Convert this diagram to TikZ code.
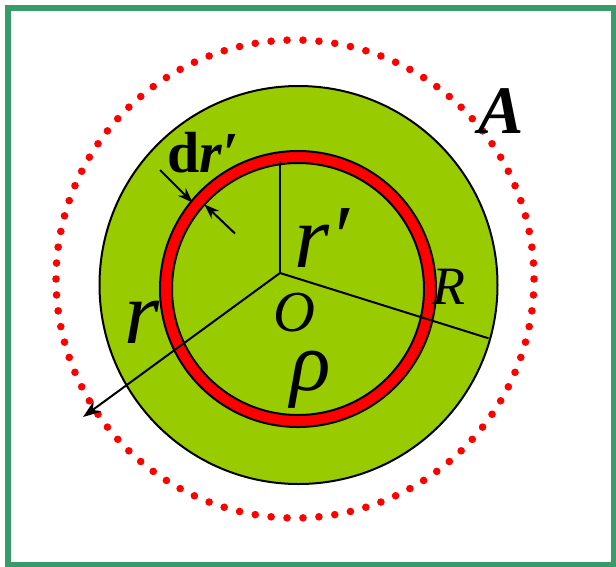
\documentclass[tikz,border=0pt]{standalone}
\usepackage{fontspec}
\setmainfont{Liberation Serif}
\usetikzlibrary{arrows.meta}
\definecolor{framegreen}{RGB}{56,155,106}
\definecolor{diskgreen}{RGB}{153,204,0}
\definecolor{ringred}{RGB}{255,0,0}
\tikzset{
  outline/.style={draw=black,line width=2pt},
  radial/.style={draw=black,line width=2pt},
  smallarrow/.style={draw=black,line width=2pt,-{Stealth[length=15pt,width=11pt]}},
  bigarrow/.style={draw=black,line width=2pt,-{Stealth[length=18pt,width=13pt]}},
  lbl/.style={inner sep=0pt,anchor=base},
  dotc/.style={fill=ringred,draw=none}
}
\begin{document}
\begin{tikzpicture}[x=1pt,y=-1pt]
\useasboundingbox (0,0) rectangle (616,566);
\fill[white] (0,0) rectangle (616,566);
% frame
\draw[framegreen,line width=6pt] (7.8,7.5) rectangle (613.5,565);
% dotted circle A
\begin{scope}[shift={(295,279)}]
\foreach \k in {0,...,93}{
  \fill[dotc] ({180+\k*3.8298}:239) circle (3.8);
}
\end{scope}
% disk
\coordinate (C) at (298.5,285);
\filldraw[fill=diskgreen,outline] (C) circle (199);
% ring
\coordinate (Cr) at (298,289);
\fill[ringred,even odd rule] (Cr) circle (138) (Cr) circle (126);
\draw[outline] (Cr) circle (138);
\draw[outline] (Cr) circle (126);
% radial lines
\coordinate (O) at (280,273);
\coordinate (top) at (280,161);
\coordinate (Rend) at (488.5,338.3);
\coordinate (rend) at (83,417);
\draw[radial] (O) -- (top);
\draw[radial] (O) -- (Rend);
\draw[bigarrow] (O) -- (rend);
% dr' arrows
\coordinate (a1s) at (160,170);
\coordinate (a1e) at (192.5,202.5);
\coordinate (a2s) at (235,233.5);
\coordinate (a2e) at (204.5,204.5);
\draw[smallarrow] (a1s) -- (a1e);
\draw[smallarrow] (a2s) -- (a2e);
% labels
\node[lbl] (lr) at (142,343) {\fontsize{90}{90}\selectfont\itshape r};
\node[lbl] (lrp) at (322,267) {\fontsize{90}{90}\selectfont\itshape r′};
\node[lbl,text depth=0pt] (lO) at (294,331) {\fontsize{58}{58}\selectfont\itshape O};
\node[lbl,text height=36pt] (lrho) at (311,390) {\fontsize{84}{84}\selectfont\itshape ρ};
\node[lbl] (lR) at (449,304) {\fontsize{54}{54}\selectfont\itshape R};
\node[lbl] (lA) at (501,133) {\fontsize{68}{68}\selectfont\bfseries\itshape A};
\node[lbl] (ldr) at (203,172) {\fontsize{58}{58}\selectfont\bfseries d\itshape r′};
\end{tikzpicture}
\end{document}
